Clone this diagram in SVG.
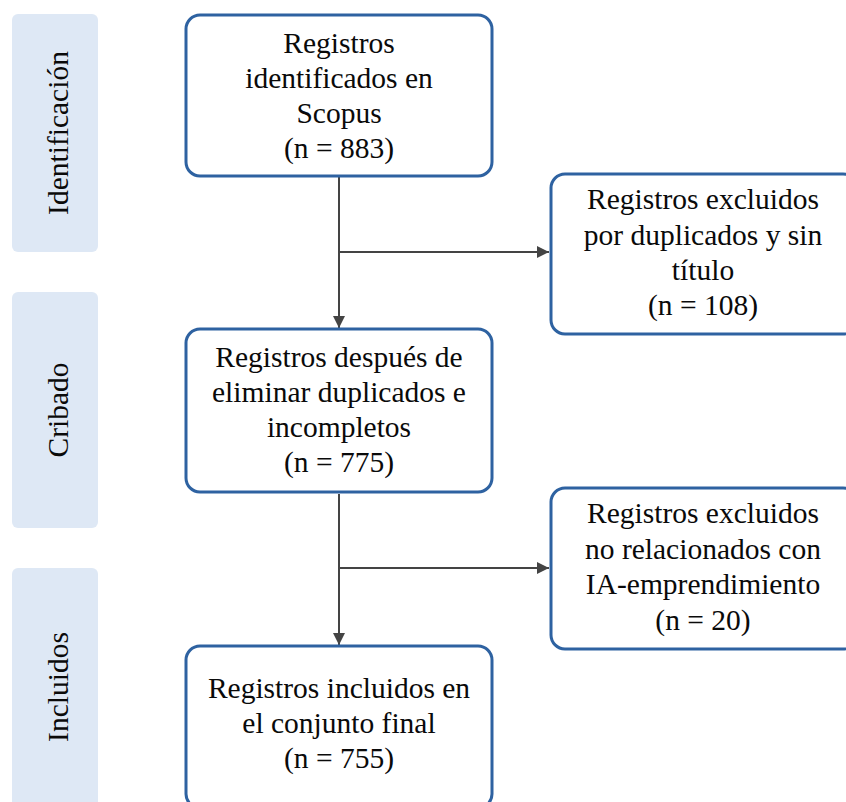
<svg xmlns="http://www.w3.org/2000/svg" width="846" height="802" viewBox="0 0 846 802">
  <style>
    .phase { fill: #DEE8F5; }
    .box { fill: #FFFFFF; stroke: #2E62A1; stroke-width: 3; }
    .txt { font-size: 29.5px; fill: #0A0A0A; text-anchor: middle; }
    .conn { stroke: #444444; stroke-width: 2; fill: none; }
  </style>
  <defs>
    <marker id="arrow" markerUnits="userSpaceOnUse" markerWidth="12" markerHeight="12" viewBox="0 0 12 12" refX="12" refY="6" orient="auto">
      <path d="M0,0 L12,6 L0,12 z" fill="#444444"/>
    </marker>
  </defs>
  <rect width="846" height="802" fill="#FFFFFF"/>

  <g font-family="'Liberation Serif', 'DejaVu Serif', serif">
  <g id="phase-identificacion">
    <rect class="phase" x="12" y="14" width="86" height="238" rx="6"/>
    <text class="txt" transform="translate(68,133) rotate(-90)">Identificación</text>
  </g>
  <g id="phase-cribado">
    <rect class="phase" x="12" y="292" width="86" height="236" rx="6"/>
    <text class="txt" transform="translate(68,410) rotate(-90)">Cribado</text>
  </g>
  <g id="phase-incluidos">
    <rect class="phase" x="12" y="568" width="86" height="240" rx="6"/>
    <text class="txt" transform="translate(68,687) rotate(-90)">Incluidos</text>
  </g>

  <g id="connectors">
    <line class="conn" x1="339" y1="177" x2="339" y2="328" marker-end="url(#arrow)"/>
    <line class="conn" x1="339" y1="252" x2="549" y2="252" marker-end="url(#arrow)"/>
    <line class="conn" x1="339" y1="494" x2="339" y2="645" marker-end="url(#arrow)"/>
    <line class="conn" x1="339" y1="568" x2="549" y2="568" marker-end="url(#arrow)"/>
  </g>

  <g id="node-identificados">
    <rect class="box" x="186" y="15" width="306" height="161" rx="14"/>
    <text class="txt" x="339" y="53">Registros</text>
    <text class="txt" x="339" y="88">identificados en</text>
    <text class="txt" x="339" y="123">Scopus</text>
    <text class="txt" x="339" y="158">(n = 883)</text>
  </g>
  <g id="node-excluidos-duplicados">
    <rect class="box" x="551" y="174" width="306" height="160" rx="14"/>
    <text class="txt" x="703" y="209">Registros excluidos</text>
    <text class="txt" x="703" y="245">por duplicados y sin</text>
    <text class="txt" x="703" y="280">título</text>
    <text class="txt" x="703" y="315">(n = 108)</text>
  </g>
  <g id="node-despues">
    <rect class="box" x="186" y="329" width="306" height="163" rx="14"/>
    <text class="txt" x="339" y="367">Registros después de</text>
    <text class="txt" x="339" y="402">eliminar duplicados e</text>
    <text class="txt" x="339" y="437">incompletos</text>
    <text class="txt" x="339" y="472">(n = 775)</text>
  </g>
  <g id="node-excluidos-ia">
    <rect class="box" x="551" y="488" width="306" height="161" rx="14"/>
    <text class="txt" x="703" y="523">Registros excluidos</text>
    <text class="txt" x="703" y="559">no relacionados con</text>
    <text class="txt" x="703" y="594">IA-emprendimiento</text>
    <text class="txt" x="703" y="630">(n = 20)</text>
  </g>
  <g id="node-incluidos">
    <rect class="box" x="186" y="646" width="306" height="162" rx="14"/>
    <text class="txt" x="339" y="698">Registros incluidos en</text>
    <text class="txt" x="339" y="733">el conjunto final</text>
    <text class="txt" x="339" y="768">(n = 755)</text>
  </g>
  </g>
</svg>
